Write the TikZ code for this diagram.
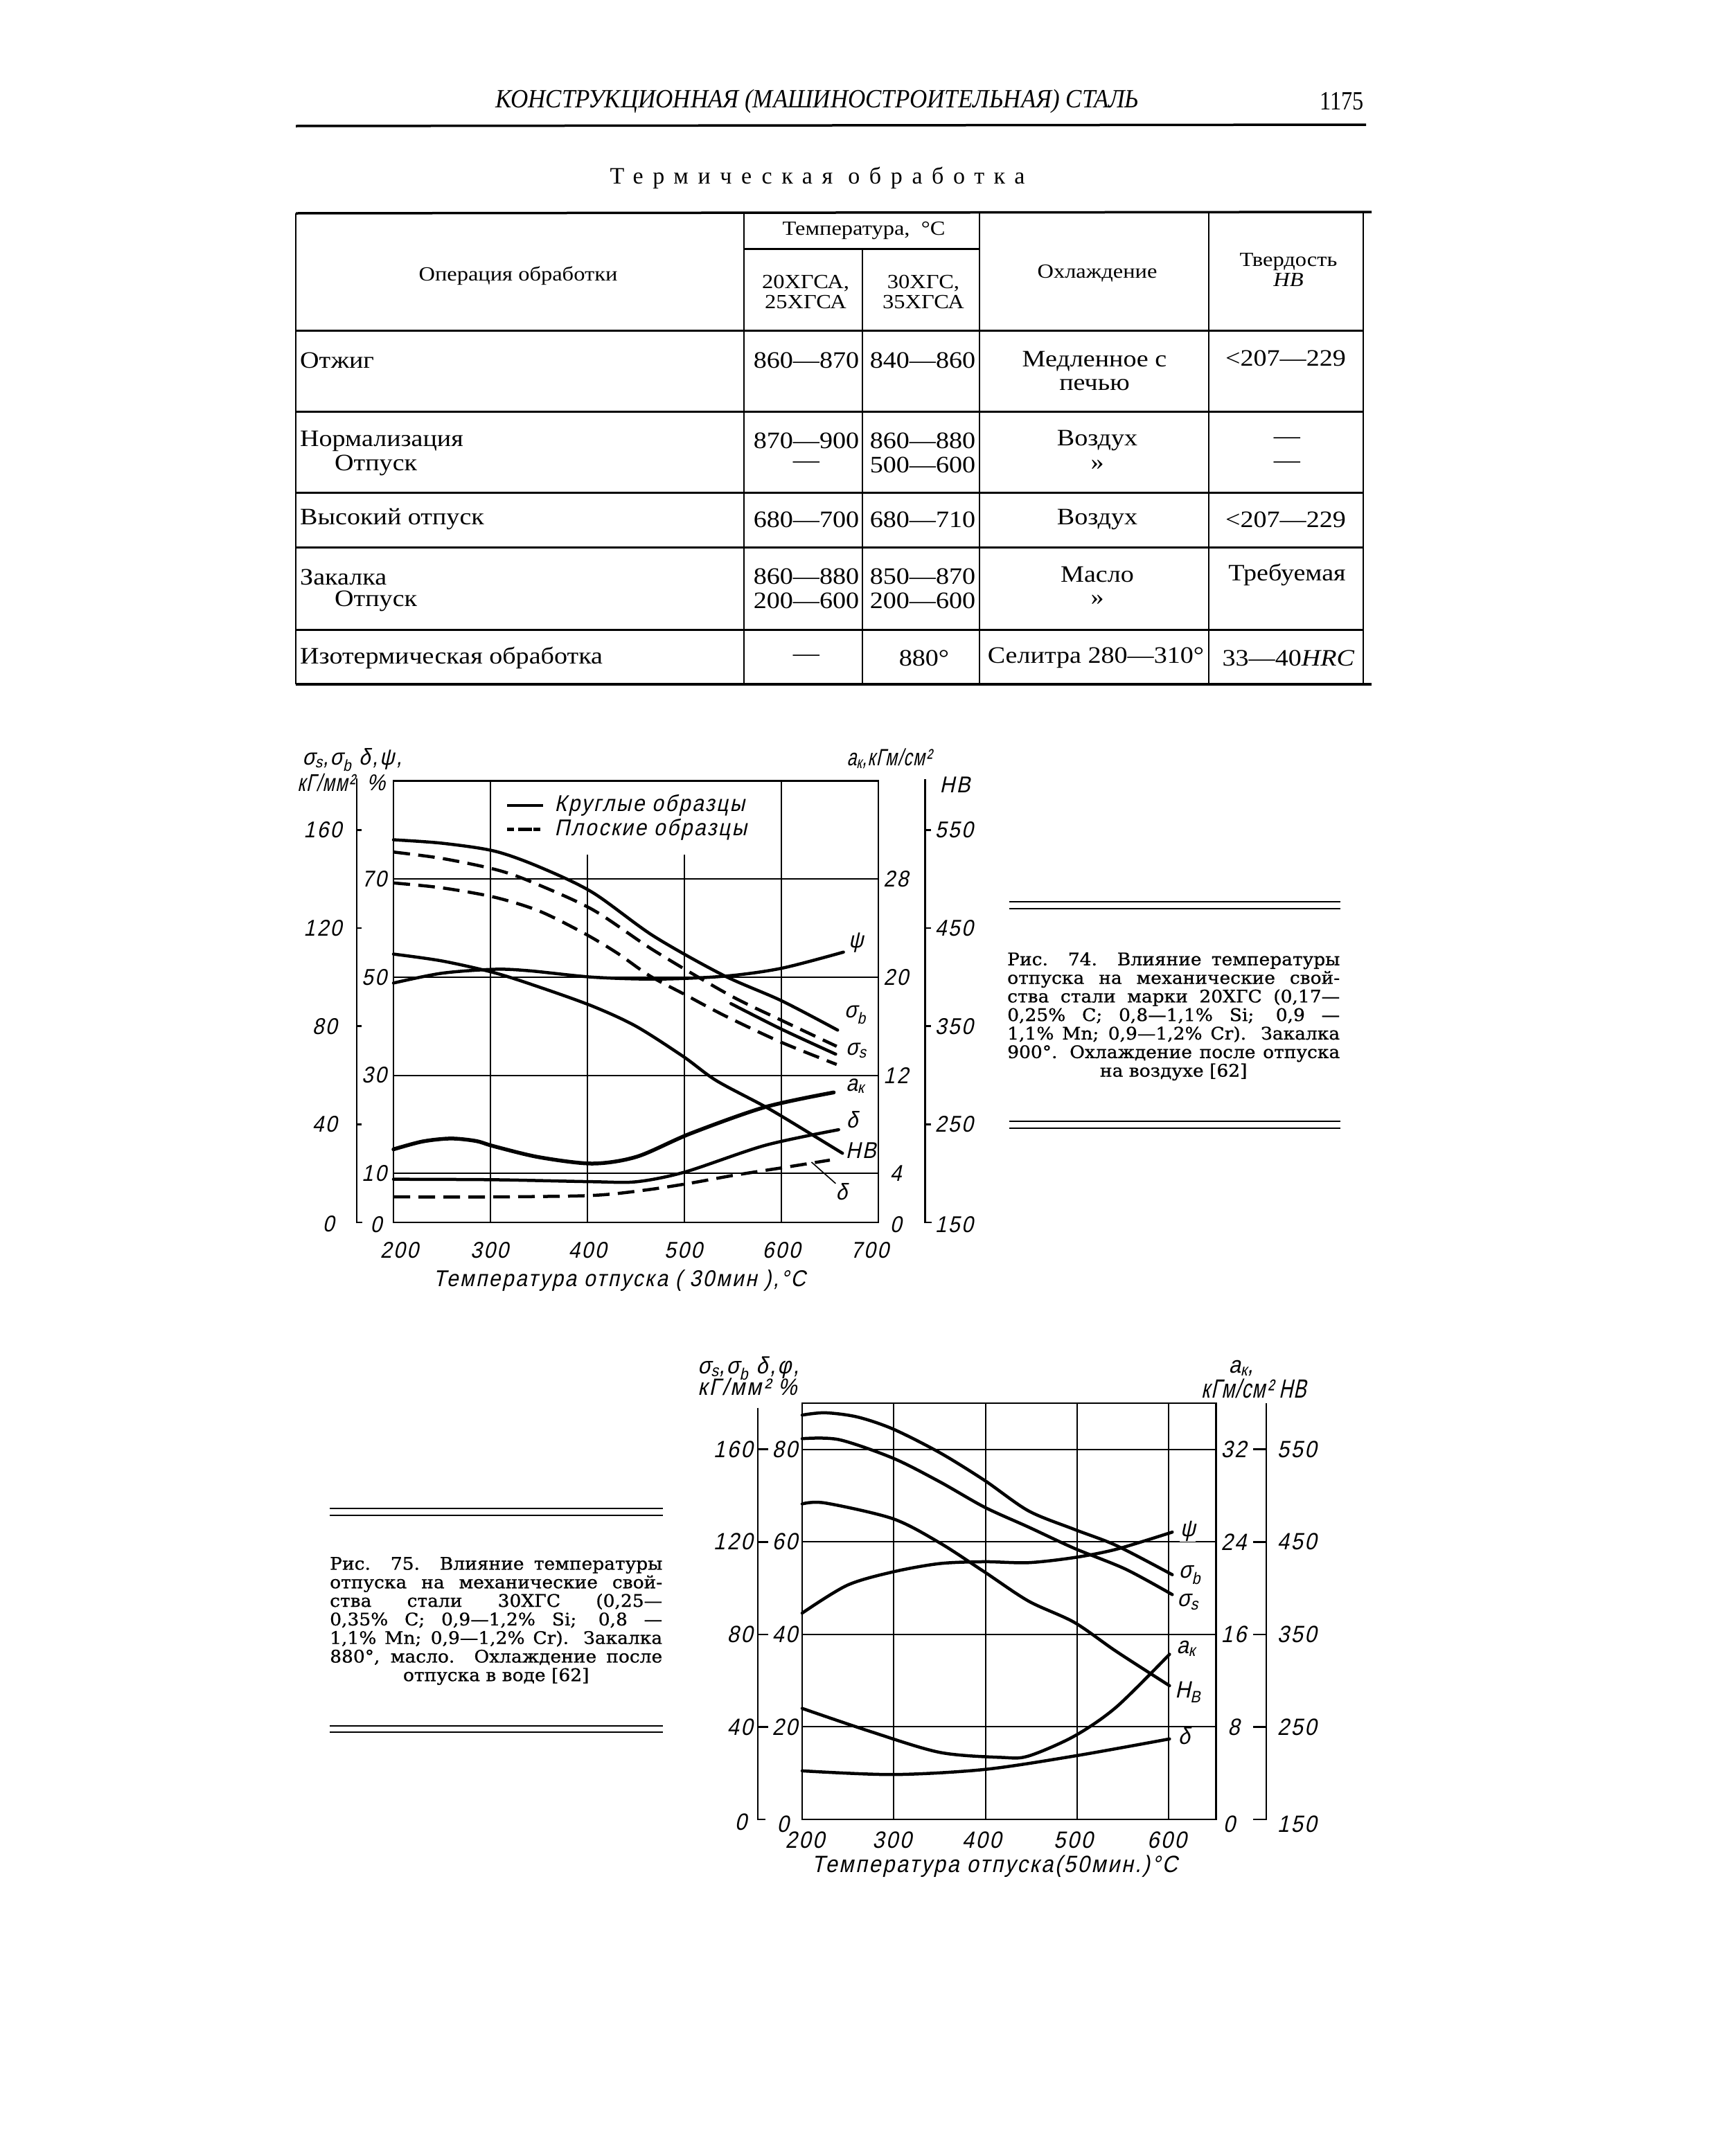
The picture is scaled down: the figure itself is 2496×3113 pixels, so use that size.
\documentclass[tikz,border=0pt]{standalone}
\usepackage{fontspec}
\usepackage{graphicx}
\setmainfont{Liberation Serif}
\newfontfamily\gost[FakeSlant=0.22,FakeStretch=0.9,LetterSpace=8]{Liberation Sans}
\newfontfamily\gostn[FakeSlant=0.22,FakeStretch=0.72,LetterSpace=4]{Liberation Sans}
\newfontfamily\hdr[FakeStretch=0.92]{Liberation Serif}
\newfontfamily\pgn[FakeStretch=0.85]{Liberation Serif}
\newfontfamily\tbl[FakeStretch=1.12]{Liberation Serif}
\newfontfamily\capf[FakeStretch=1.06,FakeBold=0.8]{DejaVu Serif}
\newfontfamily\spaced[LetterSpace=40]{Liberation Serif}
\newcommand\FS[1]{\fontsize{#1}{#1}\selectfont}
\begin{document}
\begin{tikzpicture}[x=1pt,y=-1pt,
  grd/.style={line width=2pt},
  frm/.style={line width=2.6pt},
  trule/.style={line width=3pt},
  tvert/.style={line width=2pt},
  crv/.style={line width=4.5pt,line cap=round,line join=round},
  dcrv/.style={crv,line cap=butt,dash pattern=on 24pt off 12pt},
  tx/.style={inner sep=0pt,font=\tbl\FS{34}},
  th/.style={inner sep=0pt,font=\tbl\FS{29}},
  ga/.style={inner sep=0pt,font=\gost\FS{33}},
  gb/.style={inner sep=0pt,font=\gost\FS{34}},
  cl/.style={inner sep=0.5pt,fill=white},
  captxt/.style={anchor=north west,inner sep=0pt,align=left,font=\capf\fontsize{25}{26.8}\selectfont}]
\fill[white] (0,0) rectangle (2496,3113);
\useasboundingbox (0,0) rectangle (2496,3113);

% ---------- header ----------
\node[font=\hdr\itshape\FS{38}] (hdr) at (1180,146) {КОНСТРУКЦИОННАЯ (МАШИНОСТРОИТЕЛЬНАЯ) СТАЛЬ};
\node[font=\pgn\FS{38}] (pg) at (1937,146) {1175};
\draw[line width=3.5pt] (427,182) -- (1972,180);
\node[font=\spaced\FS{34}] (ttl) at (1180,257) {Термическая обработка};

% ---------- table ----------
\draw[line width=3.5pt] (427,308) -- (1980,306);
\draw[line width=3.5pt] (427,988) -- (1980,988);
\foreach \yy in {477,594,711,790,909} \draw[trule] (427,\yy) -- (1968,\yy);
\draw[trule] (1074,359) -- (1414,359);
\foreach \xx in {427,1074,1414,1745,1968} \draw[tvert] (\xx,308) -- (\xx,988);
\draw[tvert] (1245,359) -- (1245,988);

\node[th] (h1) at (748,398) {Операция обработки};
\node[th] (h2) at (1247,333) {Температура,\ \ °С};
\node[th,align=center] (h3) at (1163,421) {20ХГСА,\\25ХГСА};
\node[th,align=center] (h4) at (1333,421) {30ХГС,\\35ХГСА};
\node[th] (h5) at (1584,395) {Охлаждение};
\node[th,align=center] (h6) at (1860,390) {Твердость\\\textit{HB}};

\node[tx,anchor=west] (r1a) at (433,520) {Отжиг};
\node[tx] (r1b) at (1164,520) {860—870};
\node[tx] (r1c) at (1332,520) {840—860};
\node[tx,align=center] (r1d) at (1580,536) {Медленное с\\печью};
\node[tx] (r1e) at (1856,517) {<207—229};

\node[tx,anchor=west] (r2a) at (433,637) {Нормализация};
\node[tx,anchor=west] (r2b) at (483,672) {Отпуск};
\node[tx] (r2c) at (1164,636) {870—900};
\node[tx] (r2d) at (1164,671) {—};
\node[tx] (r2e) at (1332,636) {860—880};
\node[tx] (r2f) at (1332,671) {500—600};
\node[tx] (r2g) at (1584,636) {Воздух};
\node[tx] (r2h) at (1584,671) {»};
\node[tx] (r2i) at (1858,636) {—};
\node[tx] (r2j) at (1858,671) {—};

\node[tx,anchor=west] (r3a) at (433,750) {Высокий отпуск};
\node[tx] (r3b) at (1164,750) {680—700};
\node[tx] (r3c) at (1332,750) {680—710};
\node[tx] (r3d) at (1584,750) {Воздух};
\node[tx] (r3e) at (1856,750) {<207—229};

\node[tx,anchor=west] (r4a) at (433,833) {Закалка};
\node[tx,anchor=west] (r4b) at (483,868) {Отпуск};
\node[tx] (r4c) at (1164,832) {860—880};
\node[tx] (r4d) at (1164,867) {200—600};
\node[tx] (r4e) at (1332,832) {850—870};
\node[tx] (r4f) at (1332,867) {200—600};
\node[tx] (r4g) at (1584,830) {Масло};
\node[tx] (r4h) at (1584,866) {»};
\node[tx] (r4i) at (1858,830) {Требуемая};

\node[tx,anchor=west] (r5a) at (433,950) {Изотермическая обработка};
\node[tx] (r5b) at (1164,950) {—};
\node[tx] (r5c) at (1334,950) {880°};
\node[tx] (r5d) at (1582,950) {Селитра 280—310°};
\node[tx] (r5e) at (1860,950) {33—40\textit{HRC}};

% ---------- chart 1 ----------
\begin{scope}[shift={(288,1765)},x=1.4pt,y=7.083pt]
  \draw[frm] (200,0) rectangle (700,90);
  \foreach \t in {300,600} \draw[grd] (\t,0) -- (\t,90);
  \foreach \t in {400,500} \draw[grd] (\t,0) -- (\t,75);
  \foreach \p in {10,30,50,70} \draw[grd] (200,\p) -- (700,\p);
  % left stress axis
  \draw[frm] (162,90.5) -- (162,0) -- (168,0);
  \foreach \p in {20,40,60,80} \draw[frm] (162,\p) -- (167,\p);
  % HB axis
  \draw[frm] (748,90.3) -- (748,0) -- (755,0);
  \foreach \p in {20,40,60,80} \draw[frm] (748,\p) -- (754,\p);
  % tick labels
  \node[ga] (a1s160) at (127,80) {160};
  \node[ga] (a1s120) at (127,60) {120};
  \node[ga] (a1s80) at (129,40) {80};
  \node[ga] (a1s40) at (129,20) {40};
  \node[ga] (a1s0) at (133,-0.3) {0};
  \node[ga] (a1p70) at (180,70) {70};
  \node[ga] (a1p50) at (180,50) {50};
  \node[ga] (a1p30) at (180,30) {30};
  \node[ga] (a1p10) at (180,10) {10};
  \node[ga] (a1p0) at (182,-0.5) {0};
  \node[ga] (a1k28) at (718,70) {28};
  \node[ga] (a1k20) at (718,50) {20};
  \node[ga] (a1k12) at (718,30) {12};
  \node[ga] (a1k4) at (718,10) {4};
  \node[ga] (a1k0) at (718,-0.5) {0};
  \node[ga] (a1h550) at (778,80) {550};
  \node[ga] (a1h450) at (778,60) {450};
  \node[ga] (a1h350) at (778,40) {350};
  \node[ga] (a1h250) at (778,20) {250};
  \node[ga] (a1h150) at (778,-0.5) {150};
  \node[ga,anchor=west] (a1t1) at (106,94.3) {σ\textsubscript{s},σ\textsubscript{b} δ,ψ,};
  \node[inner sep=0pt,font=\gostn\FS{35},anchor=east] (a1t2) at (159.5,89.6) {кГ/мм²};
  \node[ga] (a1t3) at (182,89.6) {\%};
  \node[inner sep=0pt,font=\gostn\FS{34}] (a1t4) at (711,94.6) {a\textsubscript{к},кГм/см²};
  \node[ga] (a1t5) at (779,89.2) {HB};
  \node[ga] (a1x200) at (206,-5.6) {200};
  \node[ga] (a1x300) at (299,-5.6) {300};
  \node[ga] (a1x400) at (400,-5.6) {400};
  \node[ga] (a1x500) at (499,-5.6) {500};
  \node[ga] (a1x600) at (600,-5.6) {600};
  \node[ga] (a1x700) at (691,-5.6) {700};
  \node[ga] (a1xt) at (433,-11.9) {Температура отпуска ( 30мин ),°С};
  % legend
  \coordinate (lg1a) at (317,85); \coordinate (lg1b) at (354,85);
  \coordinate (lg2a) at (317,80.1); \coordinate (lg2b) at (354,80.1);
  \draw[crv,line cap=butt] (lg1a) -- (lg1b);
  \draw[crv,line cap=butt,dash pattern=on 10pt off 6pt on 20pt off 2pt] (lg2a) -- (lg2b);
  \node[ga,anchor=west] (lgt1) at (366,85) {Круглые образцы};
  \node[ga,anchor=west] (lgt2) at (366,80.1) {Плоские образцы};
  % curves
  \draw[crv] plot[smooth] coordinates {(200,78) (250,77.3) (304,75.7) (350,72.5) (405,67.3) (468,58.4) (540,50.4) (600,45.2) (658,39.2)};
  \draw[dcrv] plot[smooth] coordinates {(200,75.5) (250,74.2) (304,72) (340,69.6) (405,63.8) (468,55.5) (546,46.4) (599,41.3) (657,35.9)};
  \draw[dcrv] plot[smooth] coordinates {(200,69.2) (250,68.2) (304,66.3) (350,63.5) (396,59) (430,55) (464,50.3) (500,46.5) (541,42.2) (599,36.8) (657,32.2)};
  \draw[crv] plot[smooth] coordinates {(548,44.6) (600,39.4) (656,34.3)};
  \draw[crv] plot[smooth] coordinates {(200,48.8) (250,50.8) (304,51.6) (340,51.3) (405,50) (472,49.6) (542,50.2) (600,51.8) (664,55.1)};
  \draw[crv] plot[smooth] coordinates {(200,54.7) (250,53.3) (304,50.9) (350,48) (405,44.1) (450,40) (499,33.8) (533,28.9) (586,23.3) (634,17.6) (663,14.1)};
  \draw[crv,line width=5.5pt] plot[smooth] coordinates {(200,14.9) (230,16.5) (259,17.1) (285,16.6) (304,15.5) (350,13.3) (405,12) (451,13.4) (506,18.1) (583,23.5) (654,26.5)};
  \draw[crv] plot[smooth] coordinates {(200,8.8) (304,8.7) (405,8.3) (451,8.3) (501,10.3) (583,15.7) (659,18.9)};
  \draw[dcrv] plot[smooth] coordinates {(200,5.2) (304,5.2) (405,5.5) (460,6.6) (506,8) (551,9.6) (606,11.3) (650,12.7)};
  % curve labels
  \node[ga] (c1psi) at (677,57) {ψ};
  \node[ga] (c1sb) at (676,42.3) {σ\textsubscript{b}};
  \node[ga] (c1ss) at (677,35) {σ\textsubscript{s}};
  \node[ga] (c1ak) at (676,27.8) {a\textsubscript{к}};
  \node[ga] (c1d) at (673,21) {δ};
  \node[ga] (c1hb) at (682,14.6) {HB};
  \node[ga] (c1d2) at (662,6.2) {δ};
  \coordinate (c1lead) at (631,12.3);
  \draw[line width=1.6pt] (c1lead) -- (c1d2.north west);
\end{scope}

% ---------- caption 74 ----------
\draw[line width=2.5pt] (1457,1302) -- (1935,1302);
\draw[line width=2.5pt] (1457,1312) -- (1935,1312);
\draw[line width=2.5pt] (1457,1619) -- (1935,1619);
\draw[line width=2.5pt] (1457,1629) -- (1935,1629);
\node[captxt] (cap74) at (1454,1375) {%
\makebox[480pt][s]{Рис. 74. Влияние температуры}\\
\makebox[480pt][s]{отпуска на механические свой-}\\
\makebox[480pt][s]{ства стали марки 20ХГС (0,17—}\\
\makebox[480pt][s]{0,25\% С; 0,8—1,1\% Si; 0,9 —}\\
\makebox[480pt][s]{1,1\% Mn; 0,9—1,2\% Cr). Закалка}\\
\makebox[480pt][s]{900°. Охлаждение после отпуска}\\
\makebox[480pt][c]{на воздухе [62]}};

% ---------- caption 75 ----------
\draw[line width=2.5pt] (476,2178) -- (957,2178);
\draw[line width=2.5pt] (476,2188) -- (957,2188);
\draw[line width=2.5pt] (476,2492) -- (957,2492);
\draw[line width=2.5pt] (476,2501) -- (957,2501);
\node[captxt] (cap75) at (476,2248) {%
\makebox[480pt][s]{Рис. 75. Влияние температуры}\\
\makebox[480pt][s]{отпуска на механические свой-}\\
\makebox[480pt][s]{ства стали 30ХГС (0,25—}\\
\makebox[480pt][s]{0,35\% С; 0,9—1,2\% Si; 0,8 —}\\
\makebox[480pt][s]{1,1\% Mn; 0,9—1,2\% Cr). Закалка}\\
\makebox[480pt][s]{880°, масло. Охлаждение после}\\
\makebox[480pt][c]{отпуска в воде [62]}};

% ---------- chart 2 ----------
\begin{scope}[shift={(893.5,2627)},x=1.3225pt,y=6.68pt]
  \foreach \t in {300,400,500,600} \draw[grd] (\t,0) -- (\t,90);
  \foreach \p in {20,40,60,80} \draw[grd] (200,\p) -- (652,\p);
  \draw[frm] (200,0) rectangle (652,90);
  % left axis
  \draw[frm] (151.6,89) -- (151.6,0) -- (160,0);
  \foreach \p in {20,40,60,80} \draw[frm] (151.6,\p) -- (163,\p);
  % HB axis
  \draw[frm] (706.6,90) -- (706.6,0) -- (692,0);
  \foreach \p in {20,40,60,80} \draw[frm] (706.6,\p) -- (692,\p);
  % labels
  \node[gb,anchor=east] (b1s160) at (146,80) {160};
  \node[gb,anchor=east] (b1s120) at (146,60) {120};
  \node[gb,anchor=east] (b1s80) at (146,40) {80};
  \node[gb,anchor=east] (b1s40) at (146,20) {40};
  \node[gb] (b1s0) at (133,-0.5) {0};
  \node[gb] (b1p80) at (181,80) {80};
  \node[gb] (b1p60) at (181,60) {60};
  \node[gb] (b1p40) at (181,40) {40};
  \node[gb] (b1p20) at (181,20) {20};
  \node[gb] (b1p0) at (179,-1) {0};
  \node[gb] (b1k32) at (671,80) {32};
  \node[gb] (b1k24) at (671,60) {24};
  \node[gb] (b1k16) at (671,40) {16};
  \node[gb] (b1k8) at (671,20) {8};
  \node[gb] (b1k0) at (666,-1) {0};
  \node[gb] (b1h550) at (740,80) {550};
  \node[gb] (b1h450) at (740,60) {450};
  \node[gb] (b1h350) at (740,40) {350};
  \node[gb] (b1h250) at (740,20) {250};
  \node[gb] (b1h150) at (740,-1) {150};
  \node[gb,anchor=west] (b1t1) at (86,97.5) {σ\textsubscript{s},σ\textsubscript{b} δ,φ,};
  \node[gb,anchor=west] (b1t2) at (86,93.5) {кГ/мм² \%};
  \node[gb] (b1t3) at (679,97.5) {a\textsubscript{к},};
  \node[inner sep=0pt,font=\gostn\FS{38},anchor=west] (b1t4) at (636,93.2) {кГм/см² HB};
  \node[gb] (b1x200) at (203,-4.5) {200};
  \node[gb] (b1x300) at (298,-4.5) {300};
  \node[gb] (b1x400) at (396,-4.5) {400};
  \node[gb] (b1x500) at (496,-4.5) {500};
  \node[gb] (b1x600) at (598,-4.5) {600};
  \node[gb] (b1xt) at (410,-10.2) {Температура отпуска(50мин.)°С};
  % curves
  \draw[crv] plot[smooth] coordinates {(200,87.4) (225,87.9) (260,87) (299,84.4) (350,79.3) (399,73.3) (447,66.7) (497,62.7) (543,59.2) (604,52.9)};
  \draw[crv] plot[smooth] coordinates {(200,82.3) (240,82.1) (299,78.1) (350,73) (399,67.5) (447,63.2) (497,58.6) (553,54.1) (604,48.6)};
  \draw[crv] plot[smooth] coordinates {(200,44.6) (249,50.6) (299,53.5) (350,55.3) (399,55.7) (447,55.5) (497,56.6) (543,58.4) (604,62.1)};
  \draw[crv] plot[smooth] coordinates {(200,68.2) (225,68.4) (299,65) (350,59.8) (399,53.5) (447,47.2) (497,42.6) (543,36.3) (601,28.9)};
  \draw[crv] plot[smooth] coordinates {(200,24) (273,19.1) (350,14.5) (418,13.4) (447,13.7) (497,18) (543,24.3) (601,35.7)};
  \draw[crv] plot[smooth] coordinates {(200,10.5) (299,9.7) (399,10.8) (497,13.7) (601,17.4)};
  \node[gb,cl] (c2psi) at (621,62.3) {ψ};
  \node[gb,cl] (c2sb) at (623,52.8) {σ\textsubscript{b}};
  \node[gb,cl] (c2ss) at (621,47) {σ\textsubscript{s}};
  \node[gb,cl] (c2ak) at (619,37) {a\textsubscript{к}};
  \node[gb,cl] (c2hb) at (621,27.5) {H\textsubscript{B}};
  \node[gb,cl] (c2d) at (617,18) {δ};
\end{scope}
\end{tikzpicture}
\end{document}
